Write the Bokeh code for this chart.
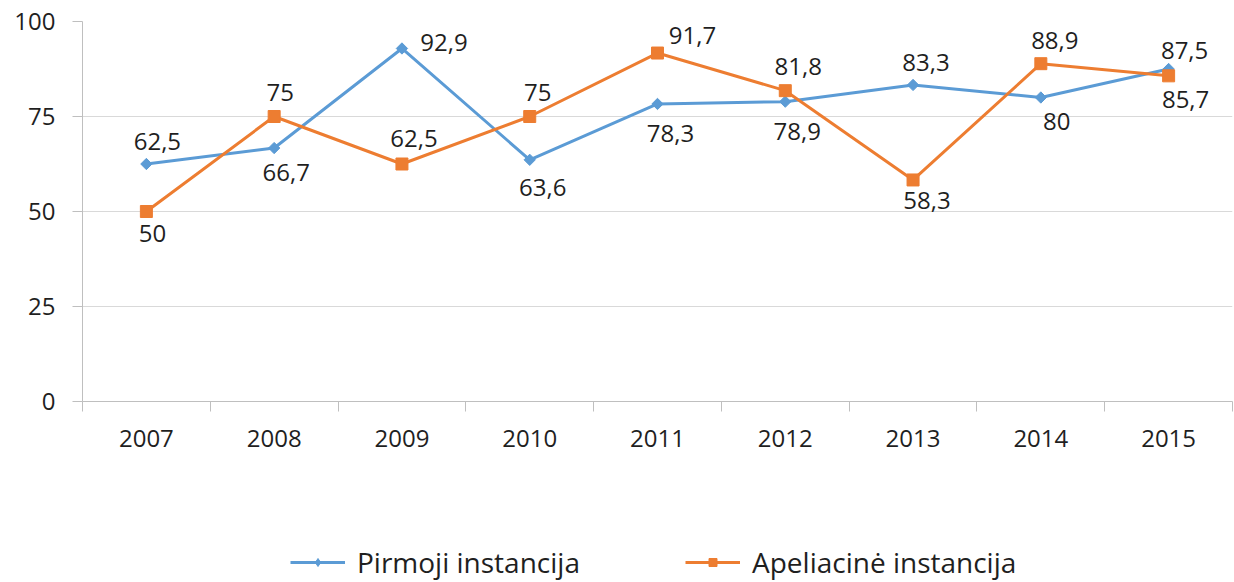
import numpy as np
from bokeh.plotting import figure
from bokeh.layouts import column
from bokeh.core.properties import value
from bokeh.models import (ColumnDataSource, Range1d, FixedTicker, Legend, LegendItem, LabelSet)
from bokeh.embed import file_html
from bokeh.resources import INLINE

# ---- data ----
years = ["2007", "2008", "2009", "2010", "2011", "2012", "2013", "2014", "2015"]
pirmoji = [62.5, 66.7, 92.9, 63.6, 78.3, 78.9, 83.3, 80, 87.5]
apeliacine = [50, 75, 62.5, 75, 91.7, 81.8, 58.3, 88.9, 85.7]
series_names = ["Pirmoji instancija", "Apeliacinė instancija"]
y_ticks = [0, 25, 50, 75, 100]

# ---- label placement (screen px: dx to the right, dy downward) ----
pirmoji_dx = [11, 12, 42, 13, 13, 12, 13, 16, 16]
pirmoji_dy = [-23, 24, -6, 28, 30, 30, -22, 24, -19]
apel_dx = [6, 6, 12, 8, 35, 13, 14, 14, 17]
apel_dy = [22, -24, -26, -24, -18, -24, 21, -23, 24]

BLUE = "#5B9BD5"
ORANGE = "#ED7D31"
FONT = "Open Sans"
TEXT = "#1f1f1f"


def fmt(v):
    return f"{v:g}".replace(".", ",")


idx = list(range(len(years)))
src_p = ColumnDataSource(dict(x=idx, y=pirmoji, lab=[fmt(v) for v in pirmoji],
                              dx=pirmoji_dx, dy=[-d for d in pirmoji_dy]))
src_a = ColumnDataSource(dict(x=idx, y=apeliacine, lab=[fmt(v) for v in apeliacine],
                              dx=apel_dx, dy=[-d for d in apel_dy]))

p = figure(width=1234, height=460,
           x_range=Range1d(-0.5, len(years) - 0.5), y_range=Range1d(0, 100),
           output_backend="svg", toolbar_location=None,
           min_border_left=82, min_border_right=2, min_border_top=21, min_border_bottom=59)
p.outline_line_color = None
p.background_fill_color = "white"
p.border_fill_color = "white"

# axes
xa = p.xaxis[0]
xa.ticker = FixedTicker(ticks=idx, minor_ticks=[i - 0.5 for i in range(len(years) + 1)])
xa.major_label_overrides = {i: y for i, y in enumerate(years)}
xa.major_tick_out = 0
xa.major_tick_in = 0
xa.minor_tick_out = 10
xa.minor_tick_in = 0
xa.minor_tick_line_color = "#bfbfbf"
xa.axis_line_color = "#bfbfbf"
xa.major_label_text_font = FONT
xa.major_label_text_font_size = "24px"
xa.major_label_text_color = TEXT
xa.major_label_standoff = 18

ya = p.yaxis[0]
ya.ticker = FixedTicker(ticks=y_ticks)
ya.major_tick_out = 10
ya.major_tick_in = 0
ya.minor_tick_line_color = None
ya.major_tick_line_color = "#bfbfbf"
ya.axis_line_color = "#bfbfbf"
ya.major_label_text_font = FONT
ya.major_label_text_font_size = "24px"
ya.major_label_text_color = TEXT
ya.major_label_standoff = 17

p.xgrid.grid_line_color = None
p.ygrid.grid_line_color = "#d9d9d9"
p.ygrid.ticker = FixedTicker(ticks=y_ticks)

# series
p.line("x", "y", source=src_p, line_color=BLUE, line_width=3)
p.scatter("x", "y", source=src_p, marker="square", angle=np.pi / 4, size=8,
          fill_color=BLUE, line_color=BLUE)
p.line("x", "y", source=src_a, line_color=ORANGE, line_width=3)
p.scatter("x", "y", source=src_a, marker="square", size=12,
          fill_color=ORANGE, line_color=ORANGE)

for src in (src_p, src_a):
    p.add_layout(LabelSet(x="x", y="y", text="lab", source=src, x_offset="dx", y_offset="dy",
                          text_align="center", text_baseline="middle",
                          text_font=value(FONT), text_font_size=value("24px"),
                          text_color=TEXT))

# ---- legend strip (second figure; its series lie outside its ranges, only the legend shows) ----
q = figure(width=1234, height=122, x_range=Range1d(-0.5, len(years) - 0.5),
           y_range=Range1d(-2, -1),
           output_backend="svg", toolbar_location=None,
           x_axis_type=None, y_axis_type=None,
           min_border_left=0, min_border_right=0, min_border_top=0, min_border_bottom=0)
q.outline_line_color = None
q.xgrid.visible = False
q.ygrid.visible = False
q.background_fill_color = "white"
q.border_fill_color = "white"

lq1 = q.line("x", "y", source=src_p, line_color=BLUE, line_width=3)
mq1 = q.scatter("x", "y", source=src_p, marker="diamond", size=13,
                fill_color=BLUE, line_color=BLUE)
lq2 = q.line("x", "y", source=src_a, line_color=ORANGE, line_width=3)
mq2 = q.scatter("x", "y", source=src_a, marker="square", size=12,
                fill_color=ORANGE, line_color=ORANGE)

for name, rends, lx in ((series_names[0], [lq1, mq1], 208), (series_names[1], [lq2, mq2], 603)):
    lg = Legend(items=[LegendItem(label=name, renderers=rends, index=0)], location=(lx, 1),
                orientation="horizontal", border_line_color=None, background_fill_alpha=0,
                margin=0, padding=0, glyph_width=55, glyph_height=20, label_standoff=12,
                label_text_font=FONT, label_text_font_size="28px", label_text_color=TEXT)
    q.add_layout(lg, "center")

layout = column(p, q, spacing=0)
open("out.html", "w").write(file_html(layout, INLINE))
